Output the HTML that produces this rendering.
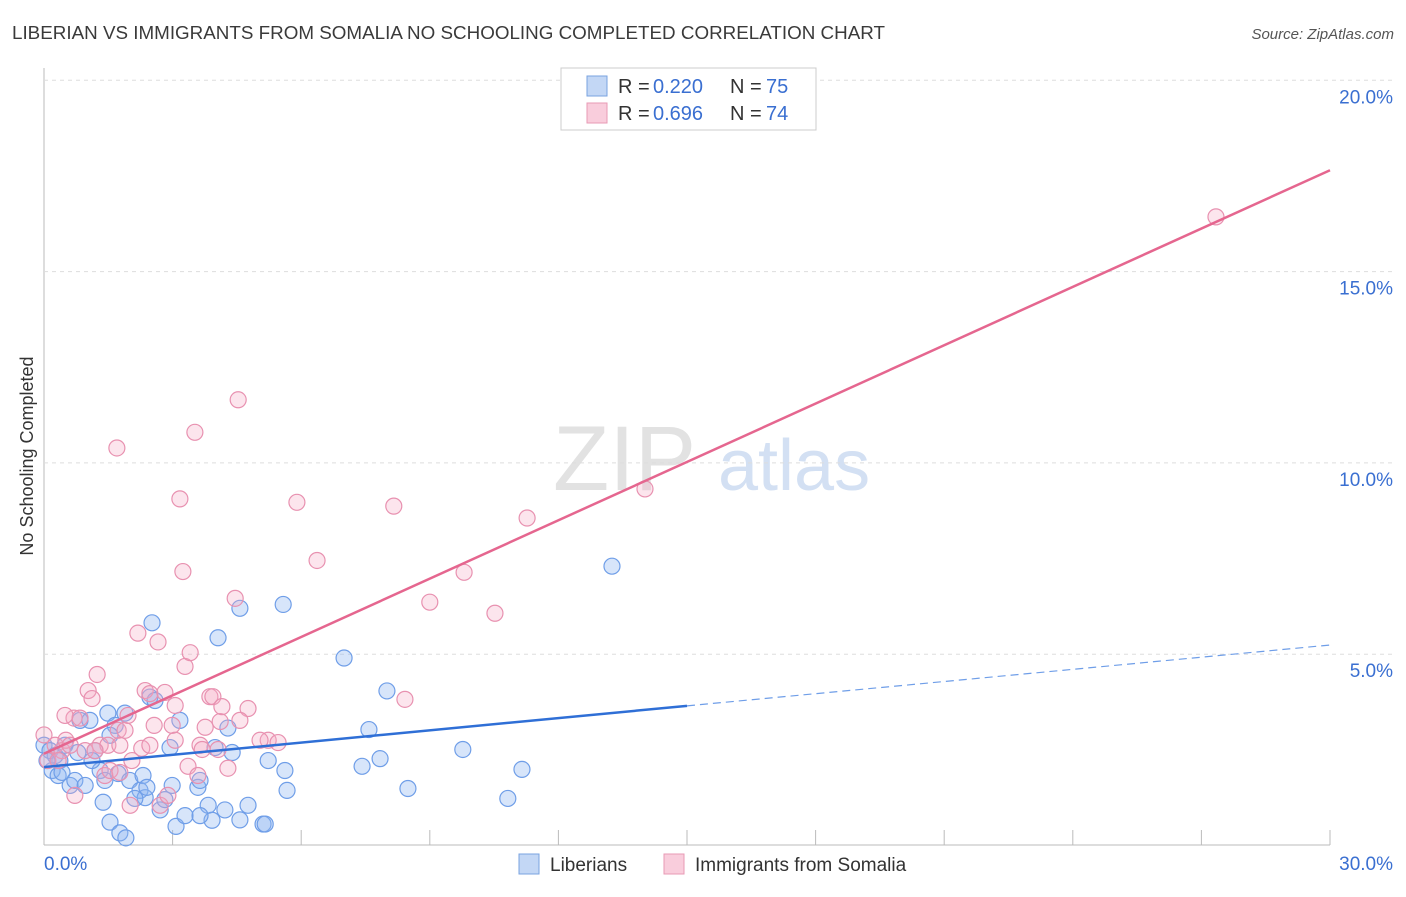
<!DOCTYPE html>
<html><head><meta charset="utf-8"><style>
body{margin:0;background:#fff;font-family:"Liberation Sans",sans-serif}
svg text{font-family:"Liberation Sans",sans-serif}
</style></head><body>
<svg width="1406" height="892" id="chart">
<text x="12" y="39" font-size="18" fill="#3a3a3a" textLength="873" lengthAdjust="spacingAndGlyphs">LIBERIAN VS IMMIGRANTS FROM SOMALIA NO SCHOOLING COMPLETED CORRELATION CHART</text>
<text x="1394" y="39" font-size="15" fill="#555" font-style="italic" text-anchor="end">Source: ZipAtlas.com</text>
<text x="33" y="456" font-size="18" fill="#333" text-anchor="middle" transform="rotate(-90 33 456)">No Schooling Completed</text>
<g>
<text x="553" y="490" font-size="92" fill="#e2e2e2" font-family="Liberation Serif">ZIP</text>
<text x="718" y="490" font-size="72" fill="#d3e0f3">atlas</text>
</g>
<g id="grid"></g>
<g id="marks"></g>
<g>
<rect x="561" y="68" width="255" height="62" fill="#fff" stroke="#ccc"/>
<rect x="587" y="76" width="20" height="20" fill="#c3d7f5" stroke="#7aa3e0"/>
<rect x="587" y="103" width="20" height="20" fill="#f9cddc" stroke="#e89ab5"/>
<text y="93" font-size="20" fill="#333"><tspan x="618">R = </tspan><tspan x="653" fill="#3a6fd1">0.220</tspan><tspan x="730">N = </tspan><tspan x="766" fill="#3a6fd1">75</tspan></text>
<text y="120" font-size="20" fill="#333"><tspan x="618">R = </tspan><tspan x="653" fill="#3a6fd1">0.696</tspan><tspan x="730">N = </tspan><tspan x="766" fill="#3a6fd1">74</tspan></text>
</g>
<g>
<rect x="519" y="854" width="20" height="20" fill="#c3d7f5" stroke="#7aa3e0"/>
<text x="550" y="871" font-size="19" fill="#333">Liberians</text>
<rect x="664" y="854" width="20" height="20" fill="#f9cddc" stroke="#e89ab5"/>
<text x="695" y="871" font-size="19" fill="#333">Immigrants from Somalia</text>
</g>
</svg>
<script>
const yTicks=[5,10,15,20];
const xTickLabels=["0.0%","30.0%"];
const blueLine=[2.05,3.65,5.24];
const pinkLine=[2.4,17.65];
const blueX=[0,0.14,0.26,0.37,0.19,0.33,0.49,0.61,0.72,0.84,0.96,1.07,1.19,1.31,1.38,1.42,1.49,1.54,1.66,1.73,1.77,1.89,1.91,2.0,2.24,2.31,2.36,2.4,2.47,2.52,2.59,2.71,2.82,2.94,2.99,3.08,3.17,3.29,3.59,3.64,3.83,3.92,3.99,4.06,4.22,4.29,4.39,4.57,4.76,5.11,5.16,5.23,5.58,5.62,5.67,7.0,7.42,7.58,7.84,8.0,8.49,9.77,10.82,11.15,13.25,0.07,0.42,0.79,1.12,1.54,2.12,3.64,4.57];
const blueY=[2.62,2.48,2.35,2.22,1.96,1.83,2.62,1.57,1.7,3.27,1.57,3.27,2.48,1.96,1.13,1.7,3.46,0.61,3.14,1.88,0.33,3.46,0.2,1.7,1.44,1.83,1.25,1.52,3.88,5.82,3.79,0.93,1.2,2.56,1.57,0.5,3.27,0.78,1.52,1.7,1.05,0.66,2.56,5.43,0.93,3.07,2.43,6.2,1.05,0.56,0.56,2.22,6.3,1.96,1.44,4.9,2.07,3.03,2.27,4.04,1.49,2.51,1.23,1.99,7.3,2.22,1.91,2.43,2.22,2.88,1.23,0.78,0.67];
const pinkX=[0,0.09,0.26,0.42,0.51,0.61,0.7,0.84,0.96,1.03,1.12,1.24,1.31,1.42,1.54,1.73,1.77,1.89,1.96,2.05,2.19,2.28,2.36,2.47,2.57,2.66,2.71,2.82,2.89,2.99,3.06,3.17,3.24,3.29,3.36,3.41,3.52,3.59,3.64,3.69,3.76,3.87,3.94,4.06,4.11,4.15,4.29,4.46,4.53,4.76,5.23,5.46,5.9,6.37,8.16,8.42,9.0,9.8,10.52,11.27,14.02,27.34,1.7,0.49,0.72,1.49,2.01,2.47,3.06,4.57,5.04,1.19,0.33,1.77];
const pinkY=[2.89,2.22,2.62,2.48,2.75,2.62,3.33,3.33,2.48,4.05,3.84,4.47,2.62,1.83,1.96,3.01,1.91,3.01,3.4,2.22,5.55,2.54,4.05,3.97,3.14,5.32,1.05,4.0,1.31,3.14,3.66,9.06,7.16,4.68,2.07,5.04,10.8,1.83,2.62,2.51,3.09,3.89,3.89,2.51,3.24,3.63,2.02,6.46,11.65,3.58,2.75,2.69,8.97,7.45,8.87,3.82,6.36,7.14,6.07,8.56,9.32,16.43,10.39,3.4,1.31,2.62,1.05,2.62,2.75,3.27,2.75,2.48,2.22,2.62];
const NS="http://www.w3.org/2000/svg";
const X0=44,X1=1330,Y0=845.5,PPY=38.26;
const xs=v=>X0+(X1-X0)*v/30, ys=v=>Y0-v*PPY;
const grid=document.getElementById('grid'),marks=document.getElementById('marks');
function mk(tag,attrs,parent){const e=document.createElementNS(NS,tag);for(const k in attrs)e.setAttribute(k,attrs[k]);parent.appendChild(e);return e;}
let a=mk('line',{x1:X0,y1:68,x2:X0,y2:845,stroke:'#bbb'},grid);


a=mk('line',{x1:X0,y1:845,x2:X1,y2:845,stroke:'#bbb'},grid);


for(let i=0;i<=10;i++){const t=mk('line',{x1:xs(i*3),y1:830,x2:xs(i*3),y2:845,stroke:'#bbb'},grid);

}
yTicks.forEach(v=>{const g=mk('line',{x1:X0,y1:ys(v),x2:1394,y2:ys(v),stroke:'#ddd','stroke-dasharray':'4,4'},grid);


const t=mk('text',{x:1393,y:ys(v)+23,'font-size':19,fill:'#3a6fd1','text-anchor':'end'},grid);t.textContent=v.toFixed(1)+'%';

});
xTickLabels.forEach((s,i)=>{const t=mk('text',{x:i?1393:44,y:870,'font-size':19,fill:'#3a6fd1','text-anchor':i?'end':'start'},grid);t.textContent=s;

});
blueX.forEach((x,i)=>{const c=mk('circle',{cx:xs(x),cy:ys(blueY[i]),r:8,fill:'rgba(140,180,240,0.35)',stroke:'#6f9ee8','stroke-width':1.2},marks);

});
pinkX.forEach((x,i)=>{const c=mk('circle',{cx:xs(x),cy:ys(pinkY[i]),r:8,fill:'rgba(245,170,195,0.3)',stroke:'#e891b0','stroke-width':1.2},marks);

});
let l=mk('line',{x1:xs(0),y1:ys(blueLine[0]),x2:xs(15),y2:ys(blueLine[1]),stroke:'#2f6fd6','stroke-width':2.5},marks);


l=mk('line',{x1:xs(15),y1:ys(blueLine[1]),x2:xs(30),y2:ys(blueLine[2]),stroke:'#6f9ee8','stroke-width':1.2,'stroke-dasharray':'8,5'},marks);


l=mk('line',{x1:xs(0),y1:ys(pinkLine[0]),x2:xs(30),y2:ys(pinkLine[1]),stroke:'#e5668f','stroke-width':2.5},marks);


</script>
</body></html>
